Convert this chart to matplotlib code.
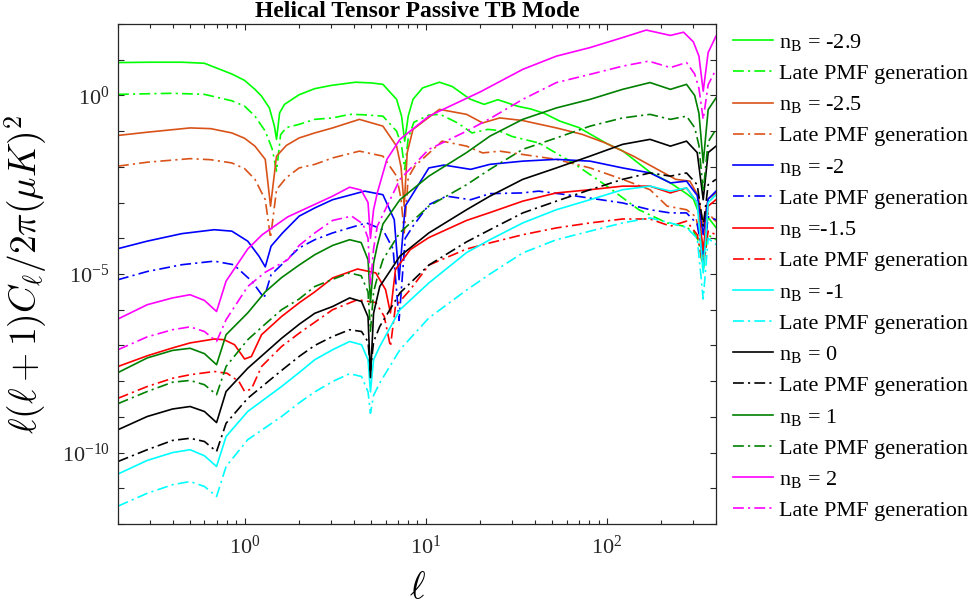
import numpy as np
import matplotlib
matplotlib.use("Agg")
import matplotlib.pyplot as plt
from matplotlib.font_manager import FontProperties
from matplotlib.ticker import FixedLocator, FuncFormatter, NullLocator, NullFormatter, LogLocator

plt.rcParams['font.family'] = ['Liberation Serif', 'DejaVu Serif']
plt.rcParams['mathtext.fontset'] = 'stix'

# Multipole values and log10 of l(l+1)C_l/2pi [(muK)^2] for each spectral index.
# "early" = standard generation, "late" = late PMF generation.

# n_B = -2.9
ell_m29 = [0.2, 0.3, 0.45, 0.6, 0.85, 1.0, 1.14, 1.24, 1.37, 1.46, 1.5, 1.56, 1.66, 2.0, 2.44, 3.0, 4.1, 5.0, 5.8,
           6.9, 7.35, 7.65, 8.0, 8.5, 9.6, 11.9, 14.0, 17.5, 21.0, 25.0, 32.0, 38.0, 45.0, 55.0, 70.0, 100.0,
           122.0, 173.0, 224.0, 275.0, 300.0, 322.0, 340.0, 360.0, 400.0]
log_m29 = [0.92, 0.93, 0.93, 0.90, 0.60, 0.42, 0.17, -0.02, -0.35, -0.86, -1.23, -0.49, -0.25, 0.02, 0.19, 0.28, 0.37,
           0.35, 0.31, -0.11, -0.58, -1.28, -0.58, -0.11, 0.21, 0.37, 0.25, -0.10, -0.25, -0.12, -0.30, -0.38,
           -0.50, -0.72, -0.90, -1.35, -1.55, -2.15, -2.45, -2.75, -2.90, -3.30, -4.60, -3.40, -3.70]
ell_m29_late = [0.2, 0.4, 0.6, 0.85, 1.0, 1.14, 1.3, 1.42, 1.5, 1.58, 1.7, 2.0, 2.44, 3.06, 3.8, 4.5, 5.8, 6.9, 7.35,
                7.65, 8.0, 8.6, 10.4, 12.0, 15.0, 18.0, 22.0, 25.0, 30.0, 42.0, 65.0, 100.0, 150.0, 215.0, 265.0,
                300.0, 322.0, 340.0, 360.0, 400.0]
log_m29_late = [0.03, 0.06, 0.03, -0.15, -0.30, -0.58, -1.00, -1.50, -2.12, -1.10, -0.90, -0.81, -0.67, -0.63,
                -0.53, -0.54, -0.58, -1.00, -1.40, -2.07, -1.20, -0.75, -0.55, -0.53, -0.77, -1.05, -0.95, -0.98,
                -1.15, -1.33, -1.89, -2.54, -3.20, -3.57, -3.66, -3.80, -4.10, -4.90, -3.90, -4.04]

# n_B = -2.5
ell_m25 = [0.2, 0.29, 0.5, 0.65, 0.85, 1.0, 1.14, 1.3, 1.39, 1.5, 1.7, 2.0, 2.44, 3.06, 4.3, 5.8, 6.9, 7.3, 7.6,
           7.9, 8.5, 11.9, 16.8, 20.6, 25.6, 34.0, 52.6, 73.0, 98.0, 140.0, 190.0, 240.0, 287.0, 318.0, 340.0,
           362.0, 400.0]
log_m25 = [-1.12, -1.03, -0.91, -0.93, -1.05, -1.20, -1.42, -1.79, -3.10, -1.70, -1.40, -1.19, -1.05, -0.91, -0.67,
           -0.86, -1.42, -2.00, -3.10, -1.60, -0.95, -0.39, -0.53, -0.77, -0.63, -0.70, -0.91, -1.09, -1.33,
           -1.70, -2.07, -2.35, -2.40, -2.80, -3.60, -2.90, -2.73]
ell_m25_late = [0.2, 0.29, 0.5, 0.65, 0.85, 1.0, 1.14, 1.3, 1.39, 1.5, 1.7, 2.0, 2.44, 3.06, 4.3, 5.8, 6.9, 7.3, 7.6,
                8.0, 8.7, 12.3, 16.8, 20.6, 25.6, 34.0, 52.6, 80.7, 122.0, 173.0, 215.0, 275.0, 310.0, 340.0,
                362.0, 400.0]
log_m25_late = [-1.98, -1.87, -1.77, -1.80, -1.89, -2.05, -2.35, -2.92, -3.99, -2.64, -2.30, -2.03, -1.93, -1.75,
                -1.56, -1.70, -2.26, -2.90, -3.85, -2.30, -1.98, -1.28, -1.42, -1.61, -1.56, -1.65, -1.79, -2.03,
                -2.35, -2.64, -3.10, -3.20, -3.40, -4.50, -3.30, -3.53]

# n_B = -2
ell_m20 = [0.2, 0.29, 0.45, 0.68, 0.85, 1.04, 1.2, 1.3, 1.4, 1.62, 2.0, 2.44, 3.06, 4.6, 5.8, 6.7, 7.12, 7.7, 10.4,
           12.6, 17.7, 22.6, 34.3, 52.6, 80.7, 122.0, 173.0, 224.0, 275.0, 315.0, 340.0, 362.0, 400.0]
log_m20 = [-4.29, -4.08, -3.87, -3.76, -3.80, -4.08, -4.50, -4.80, -4.22, -3.85, -3.38, -3.15, -2.92, -2.68, -2.78,
           -3.48, -5.16, -3.10, -2.03, -1.95, -2.07, -1.93, -1.84, -1.79, -1.84, -2.03, -2.17, -2.45, -2.40, -2.80,
           -3.90, -2.90, -2.68]
ell_m20_late = [0.2, 0.29, 0.45, 0.68, 0.87, 1.1, 1.28, 1.4, 2.0, 2.44, 3.06, 4.7, 5.8, 6.6, 7.12, 7.7, 8.5, 10.4,
                13.0, 17.7, 22.6, 34.0, 42.0, 60.0, 122.0, 173.0, 224.0, 275.0, 315.0, 340.0, 362.0, 400.0]
log_m20_late = [-5.16, -4.93, -4.74, -4.64, -4.74, -5.21, -5.67, -5.02, -4.27, -4.04, -3.85, -3.57, -3.76, -4.30,
                -6.30, -4.00, -3.66, -3.06, -2.82, -2.92, -2.75, -2.73, -2.68, -2.78, -3.01, -3.20, -3.29, -3.29,
                -3.60, -4.60, -3.40, -3.48]

# n_B = -1.5
ell_m15 = [0.2, 0.29, 0.4, 0.5, 0.68, 0.77, 0.88, 1.0, 1.09, 1.24, 1.6, 2.01, 2.44, 3.06, 4.2, 5.3, 6.0, 6.38, 6.8,
           8.2, 10.4, 16.8, 22.6, 34.3, 52.6, 80.7, 122.0, 173.0, 224.0, 275.0, 315.0, 340.0, 362.0, 400.0]
log_m15 = [-7.59, -7.29, -7.07, -6.93, -6.82, -6.84, -6.98, -7.38, -7.31, -6.70, -6.19, -5.80, -5.50, -5.11, -4.86,
           -4.97, -5.44, -6.09, -4.88, -4.32, -3.98, -3.50, -3.28, -2.96, -2.73, -2.64, -2.54, -2.54, -2.73, -2.59,
           -3.00, -4.32, -3.10, -2.92]
ell_m15_late = [0.2, 0.29, 0.4, 0.5, 0.68, 0.8, 0.93, 1.0, 1.09, 1.24, 1.6, 2.01, 2.44, 3.06, 4.2, 5.3, 5.9, 6.38,
                6.8, 8.2, 10.4, 16.8, 22.6, 34.3, 52.6, 80.7, 122.0, 173.0, 224.0, 275.0, 315.0, 340.0, 362.0, 400.0]
log_m15_late = [-8.48, -8.15, -7.92, -7.82, -7.73, -7.78, -8.01, -8.29, -8.22, -7.59, -7.03, -6.65, -6.35, -6.00,
                -5.72, -5.80, -6.19, -7.03, -5.91, -5.44, -4.75, -4.30, -4.13, -3.90, -3.71, -3.57, -3.46, -3.46,
                -3.66, -3.52, -3.90, -4.79, -3.80, -3.90]

# n_B = -1
ell_m10 = [0.2, 0.29, 0.4, 0.5, 0.6, 0.7, 0.79, 1.04, 1.6, 2.01, 2.44, 3.06, 3.8, 4.42, 4.8, 4.95, 5.15, 5.57, 7.2,
           10.4, 16.8, 22.6, 34.3, 52.6, 80.7, 122.0, 173.0, 224.0, 275.0, 315.0, 340.0, 362.0, 400.0]
log_m10 = [-10.60, -10.22, -10.00, -9.92, -10.09, -10.39, -9.55, -8.85, -8.15, -7.75, -7.40, -7.12, -6.89, -6.98,
           -7.40, -8.30, -7.40, -7.03, -6.00, -5.25, -4.40, -4.04, -3.57, -3.20, -2.92, -2.64, -2.54, -2.68, -2.59,
           -3.00, -4.97, -3.00, -2.78]
ell_m10_late = ell_m10
log_m10_late = [-11.50, -11.14, -10.90, -10.81, -10.95, -11.23, -10.39, -9.64, -8.99, -8.60, -8.30, -8.01, -7.79,
                -7.87, -8.30, -8.90, -8.40, -8.05, -7.12, -6.23, -5.45, -5.00, -4.41, -4.04, -3.80, -3.57, -3.43,
                -3.57, -3.70, -4.00, -5.70, -4.00, -4.18]

# n_B = 0
ell_p00 = ell_m10
log_p00 = [-9.36, -8.99, -8.78, -8.71, -8.85, -9.16, -8.29, -7.64, -6.80, -6.40, -6.10, -5.91, -5.67, -5.77, -6.20,
           -7.90, -6.10, -5.35, -4.50, -3.85, -3.20, -2.82, -2.35, -2.03, -1.70, -1.37, -1.23, -1.42, -1.28, -1.60,
           -2.92, -1.60, -1.42]
ell_p00_late = ell_m10
log_p00_late = [-10.25, -9.92, -9.66, -9.60, -9.69, -9.97, -9.18, -8.48, -7.70, -7.30, -7.00, -6.75, -6.56, -6.61,
                -6.90, -7.70, -6.90, -6.47, -5.53, -4.75, -4.10, -3.76, -3.29, -2.96, -2.64, -2.35, -2.17, -2.26,
                -2.17, -2.50, -3.66, -2.50, -2.35]

# n_B = 1
ell_p10 = [0.2, 0.29, 0.4, 0.5, 0.6, 0.7, 0.79, 1.04, 1.3, 1.6, 2.0, 2.44, 3.06, 3.8, 4.4, 4.8, 4.95, 5.15, 5.4, 5.8,
           7.2, 10.4, 16.8, 22.6, 34.3, 52.6, 80.7, 122.0, 173.0, 224.0, 275.0, 305.0, 322.0, 340.0, 362.0, 400.0]
log_p10 = [-7.76, -7.35, -7.14, -7.08, -7.23, -7.54, -6.70, -6.09, -5.50, -5.10, -4.75, -4.46, -4.20, -4.04, -4.12,
           -4.60, -5.80, -4.70, -4.20, -3.60, -2.92, -2.26, -1.60, -1.14, -0.67, -0.35, -0.11, 0.17, 0.36, 0.17,
           0.31, 0.00, -0.50, -1.89, -0.40, -0.07]
ell_p10_late = ell_p10
log_p10_late = [-8.63, -8.29, -8.03, -7.98, -8.10, -8.38, -7.59, -6.84, -6.40, -6.00, -5.70, -5.35, -5.15, -4.97,
                -5.05, -5.50, -6.60, -5.50, -5.10, -4.60, -3.84, -3.10, -2.50, -2.07, -1.51, -1.19, -0.86, -0.63,
                -0.53, -0.67, -0.58, -0.90, -1.40, -2.70, -1.30, -0.95]

# n_B = 2
ell_p20 = [0.2, 0.29, 0.4, 0.5, 0.6, 0.7, 0.79, 1.04, 1.25, 1.73, 3.06, 3.8, 4.4, 4.8, 4.95, 5.15, 5.4, 6.1, 7.2,
           10.4, 13.6, 20.0, 34.3, 52.6, 80.7, 122.0, 165.0, 224.0, 265.0, 300.0, 322.0, 340.0, 362.0, 400.0]
log_p20 = [-6.26, -5.86, -5.67, -5.58, -5.74, -6.05, -5.20, -4.30, -3.90, -3.40, -2.82, -2.57, -2.65, -3.00, -4.00,
           -3.20, -2.73, -1.79, -1.23, -0.58, -0.30, 0.10, 0.73, 1.10, 1.34, 1.62, 1.83, 1.68, 1.77, 1.50, 1.10,
           0.12, 1.20, 1.66]
ell_p20_late = [0.2, 0.29, 0.4, 0.5, 0.6, 0.7, 0.79, 1.04, 1.3, 1.73, 2.0, 2.44, 3.06, 3.9, 4.5, 4.8, 4.95, 5.15,
                5.4, 7.2, 10.4, 16.8, 22.6, 34.3, 52.6, 80.7, 122.0, 170.0, 224.0, 275.0, 305.0, 322.0, 340.0,
                362.0, 400.0]
log_p20_late = [-7.12, -6.76, -6.56, -6.48, -6.61, -6.89, -6.28, -5.35, -4.95, -4.60, -4.20, -3.85, -3.50, -3.38,
                -3.60, -4.00, -5.30, -4.30, -3.66, -2.35, -1.51, -1.00, -0.65, -0.11, 0.36, 0.59, 0.82, 0.96, 0.78,
                0.92, 0.60, 0.20, -0.67, 0.30, 0.73]

labels = ['n$_\\mathregular{B}$ = -2.9', 'n$_\\mathregular{B}$ = -2.5', 'n$_\\mathregular{B}$ = -2',
          'n$_\\mathregular{B}$ =-1.5', 'n$_\\mathregular{B}$ = -1', 'n$_\\mathregular{B}$ = 0',
          'n$_\\mathregular{B}$ = 1', 'n$_\\mathregular{B}$ = 2']
late_label = 'Late PMF generation'
colors = ['#00ff00', '#d95319', '#0000ff', '#ff0000', '#00ffff', '#000000', '#008000', '#ff00ff']

early = [(ell_m29, log_m29), (ell_m25, log_m25), (ell_m20, log_m20), (ell_m15, log_m15),
         (ell_m10, log_m10), (ell_p00, log_p00), (ell_p10, log_p10), (ell_p20, log_p20)]
late = [(ell_m29_late, log_m29_late), (ell_m25_late, log_m25_late), (ell_m20_late, log_m20_late),
        (ell_m15_late, log_m15_late), (ell_m10_late, log_m10_late), (ell_p00_late, log_p00_late),
        (ell_p10_late, log_p10_late), (ell_p20_late, log_p20_late)]

W, H = 971, 609
fig = plt.figure(figsize=(W / 100, H / 100), dpi=100)
ax = fig.add_axes([118 / W, 85 / H, 598 / W, 500 / H])

lw = 1.2
dashdot = (0, (6.5, 2.5, 1.3, 2.5))
for lab, col, (xe, ye), (xl, yl) in zip(labels, colors, early, late):
    ax.plot(xe, 10.0 ** np.asarray(ye), color=col, lw=lw, ls='-', label=lab)
    ax.plot(xl, 10.0 ** np.asarray(yl), color=col, lw=lw, ls=dashdot, label=late_label)

ax.set_xscale('log')
ax.set_yscale('log')
ax.set_xlim(0.2, 400)
ax.set_ylim(1e-12, 1e2)

ax.yaxis.set_major_locator(FixedLocator([10.0 ** k for k in range(-12, 3)]))
ax.yaxis.set_minor_locator(NullLocator())
shown = {0: r'$\mathregular{10^{0}}$', -5: r'$\mathregular{10^{-5}}$', -10: r'$\mathregular{10^{-10}}$'}
ax.yaxis.set_major_formatter(FuncFormatter(lambda v, p: shown.get(int(round(np.log10(v))), '')))
ax.xaxis.set_major_locator(LogLocator(base=10, numticks=10))
ax.xaxis.set_minor_locator(LogLocator(base=10, subs=np.arange(2, 10), numticks=20))
ax.xaxis.set_minor_formatter(NullFormatter())
ax.xaxis.set_major_formatter(FuncFormatter(lambda v, p: r'$\mathregular{10^{%d}}$' % int(round(np.log10(v)))))

edge = '#262626'
for s in ax.spines.values():
    s.set_color(edge)
    s.set_linewidth(0.9)
ax.tick_params(which='both', direction='in', top=True, right=True, colors=edge, width=0.8, labelsize=16,
               labelcolor=edge)
ax.tick_params(which='major', length=4.3)
ax.tick_params(which='minor', length=2.9)
ax.tick_params(axis='x', pad=8)
ax.tick_params(axis='y', pad=6)

ax.set_title('Helical Tensor Passive TB Mode', fontsize=17, fontweight='bold', pad=5)
ax.set_xlabel(r'$\ell$', fontsize=27, math_fontfamily='cm')
ax.set_ylabel(r'$\ell(\ell+1)C_\ell/2\pi(\mu K)^2$', fontsize=27, math_fontfamily='cm')
ax.xaxis.set_label_coords(0.5, -0.095)
ax.yaxis.set_label_coords(-0.115, 0.5)

leg_font = FontProperties(family='Liberation Serif', size=16, math_fontfamily='stix')
ax.legend(loc='upper left', bbox_to_anchor=(733 / W, 1 - 32 / H), bbox_transform=fig.transFigure,
          frameon=False, prop=leg_font, handlelength=1.8, handletextpad=0.25, labelspacing=0.47,
          borderpad=0, borderaxespad=0)

fig.savefig('out.png', dpi=100)
